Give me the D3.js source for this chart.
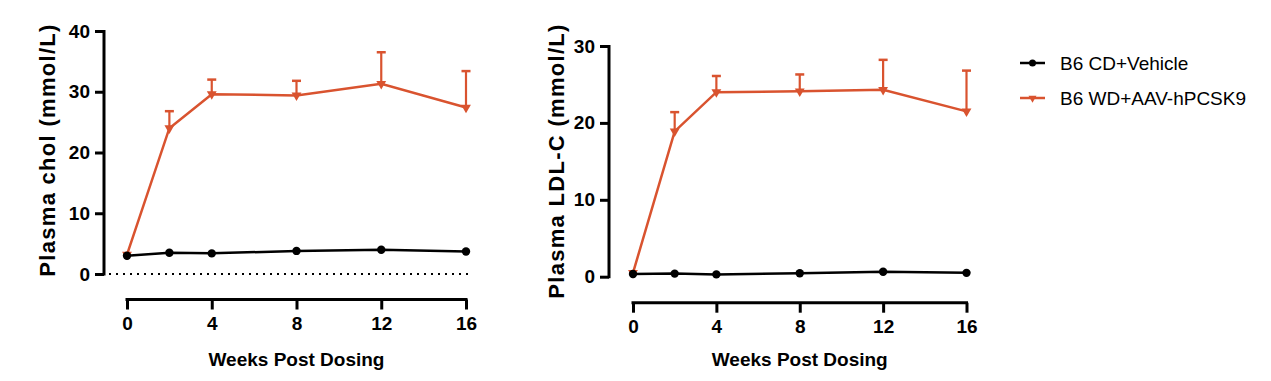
<!DOCTYPE html>
<html><head><meta charset="utf-8">
<script src="https://cdn.jsdelivr.net/npm/d3@7"></script>
<style>
html,body{margin:0;padding:0;background:#fff;}
svg{display:block;font-family:"Liberation Sans",Arial,sans-serif;}
</style></head>
<body><svg id="c" width="1271" height="381"></svg>
<script>
const weeks = [0, 2, 4, 8, 12, 16];
const xTicks = [0, 4, 8, 12, 16];
const seriesNames = ["B6 CD+Vehicle", "B6 WD+AAV-hPCSK9"];
const seriesColors = ["#000000", "#d9532f"];

// Panel 1: Plasma chol
const cholVehicle = [3.0, 3.5, 3.4, 3.8, 4.0, 3.7];
const cholPCSK9 = [3.2, 24.0, 29.6, 29.4, 31.3, 27.4];
const cholPCSK9Upper = [null, 26.8, 32.0, 31.8, 36.5, 33.4];
const cholTicks = [0, 10, 20, 30, 40];

// Panel 2: Plasma LDL-C
const ldlVehicle = [0.35, 0.4, 0.3, 0.45, 0.65, 0.5];
const ldlPCSK9 = [0.5, 18.9, 24.0, 24.1, 24.3, 21.5];
const ldlPCSK9Upper = [null, 21.4, 26.1, 26.3, 28.2, 26.8];
const ldlTicks = [0, 10, 20, 30];

const svg = d3.select("#c");

function panel(cfg) {
  const g = svg.append("g");
  const x = d3.scaleLinear().domain([0, 16]).range([cfg.x0, cfg.x1]);
  const y = d3.scaleLinear().domain([0, cfg.ymax]).range([cfg.y0, cfg.y1]);

  // Y axis
  const ya = g.append("g").attr("transform", `translate(${cfg.ax},0)`)
    .call(d3.axisLeft(y).tickValues(cfg.yticks).tickSize(9).tickPadding(5).tickSizeOuter(0));
  ya.select(".domain").attr("stroke-width", 3).attr("d", `M0,${cfg.y0 + 1.5}V${cfg.y1 - 1}`);
  ya.selectAll(".tick line").attr("stroke-width", 3);
  ya.selectAll(".tick text").attr("font-size", 19).attr("font-weight", "bold")
    .attr("font-family", '"Liberation Sans",Arial,sans-serif').attr("fill", "#000");

  // X axis
  const xa = g.append("g").attr("transform", `translate(0,${cfg.xy})`)
    .call(d3.axisBottom(x).tickValues(xTicks).tickSize(10).tickPadding(7).tickSizeOuter(0));
  xa.select(".domain").attr("stroke-width", 3).attr("d", `M${cfg.x0 - 1.5},0H${cfg.x1 + 1.5}`);
  xa.selectAll(".tick line").attr("stroke-width", 3);
  xa.selectAll(".tick text").attr("font-size", 19).attr("font-weight", "bold")
    .attr("font-family", '"Liberation Sans",Arial,sans-serif').attr("fill", "#000");

  // zero dotted line
  if (cfg.dotted) {
    g.append("line").attr("x1", cfg.ax + 5).attr("x2", cfg.x1 + 2)
      .attr("y1", y(0)).attr("y2", y(0))
      .attr("stroke", "#000").attr("stroke-width", 2).attr("stroke-dasharray", "2,5");
  }

  // axis titles
  g.append("text").attr("x", (cfg.x0 + cfg.x1) / 2).attr("y", 366)
    .attr("text-anchor", "middle").attr("font-size", 19).attr("font-weight", "bold")
    .text("Weeks Post Dosing");
  g.append("text").attr("transform", `translate(${cfg.tx},${cfg.ty}) rotate(-90)`)
    .attr("text-anchor", "middle").attr("font-size", 22).attr("font-weight", "bold")
    .attr("letter-spacing", "1.3px").text(cfg.ytitle);

  const line = d3.line().x((d, i) => x(weeks[i])).y(d => y(d));

  // red series error bars
  const red = seriesColors[1];
  cfg.upper.forEach((u, i) => {
    if (u == null) return;
    g.append("line").attr("x1", x(weeks[i])).attr("x2", x(weeks[i]))
      .attr("y1", y(cfg.red[i])).attr("y2", y(u))
      .attr("stroke", red).attr("stroke-width", 2.2);
    g.append("line").attr("x1", x(weeks[i]) - 4.5).attr("x2", x(weeks[i]) + 4.5)
      .attr("y1", y(u)).attr("y2", y(u))
      .attr("stroke", red).attr("stroke-width", 2.5);
  });

  g.append("path").datum(cfg.red).attr("d", line).attr("fill", "none")
    .attr("stroke", red).attr("stroke-width", 2.5);
  g.append("path").datum(cfg.black).attr("d", line).attr("fill", "none")
    .attr("stroke", "#000").attr("stroke-width", 2.5);

  const tri = d3.symbol().type(d3.symbolTriangle).size(42);
  g.selectAll(".tri").data(cfg.red).enter().append("path")
    .attr("d", tri).attr("fill", red)
    .attr("transform", (d, i) => `translate(${x(weeks[i])},${y(d)}) rotate(180)`);
  g.selectAll(".dot").data(cfg.black).enter().append("circle")
    .attr("cx", (d, i) => x(weeks[i])).attr("cy", d => y(d)).attr("r", 4.2).attr("fill", "#000");
}

panel({x0: 127, x1: 466, y0: 274, y1: 31, ymax: 40, ax: 104, xy: 299.5,
  yticks: cholTicks, black: cholVehicle, red: cholPCSK9, upper: cholPCSK9Upper,
  ytitle: "Plasma chol (mmol/L)", tx: 55, ty: 150, dotted: true});
panel({x0: 633, x1: 966.5, y0: 276.7, y1: 46, ymax: 30, ax: 609, xy: 302.7,
  yticks: ldlTicks, black: ldlVehicle, red: ldlPCSK9, upper: ldlPCSK9Upper,
  ytitle: "Plasma LDL-C (mmol/L)", tx: 564, ty: 161, dotted: false});

// Legend
const leg = svg.append("g");
const legY = [63, 98];
seriesNames.forEach((name, i) => {
  leg.append("line").attr("x1", 1020).attr("x2", 1045).attr("y1", legY[i]).attr("y2", legY[i])
    .attr("stroke", seriesColors[i]).attr("stroke-width", 2.5);
  if (i === 0) {
    leg.append("circle").attr("cx", 1032.5).attr("cy", legY[i]).attr("r", 3.5).attr("fill", seriesColors[i]);
  } else {
    leg.append("path").attr("d", d3.symbol().type(d3.symbolTriangle).size(28))
      .attr("fill", seriesColors[i]).attr("transform", `translate(1032.5,${legY[i]}) rotate(180)`);
  }
  leg.append("text").attr("x", 1060).attr("y", legY[i] + 7).attr("font-size", 19)
    .attr("fill", "#000").text(name);
});
</script></body></html>
